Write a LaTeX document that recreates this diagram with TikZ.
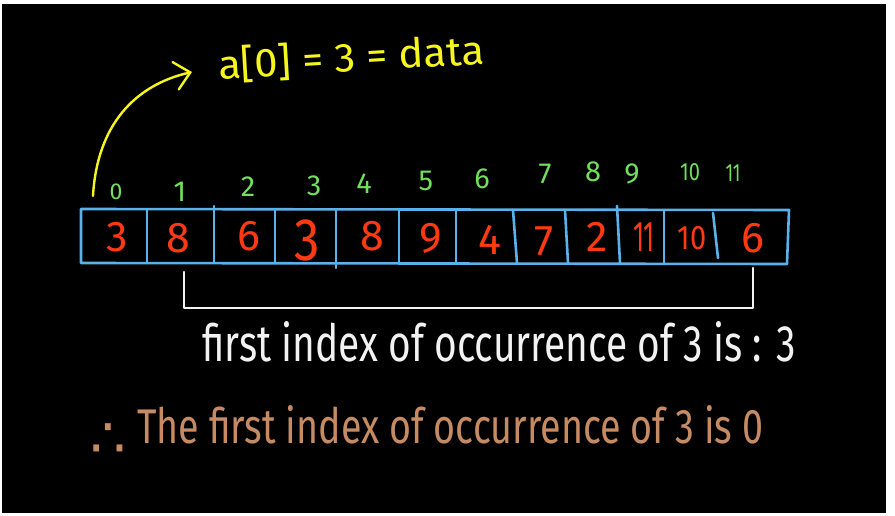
\documentclass[tikz,border=0pt]{standalone}
\usepackage{fontspec}
\usepackage{graphicx}
\setmainfont{Fira Sans}
\newfontfamily\symfont{DejaVu Sans}
\usetikzlibrary{arrows.meta}
\definecolor{cellblue}{HTML}{5BB2EA}
\definecolor{valred}{HTML}{FF3A12}
\definecolor{idxgreen}{HTML}{72E05C}
\definecolor{hyellow}{HTML}{F6F61E}
\definecolor{hbrown}{HTML}{C68B62}
\definecolor{hwhite}{HTML}{F2F2F2}
\tikzset{
  val/.style={text=valred, inner sep=0pt, font=\fontsize{43}{43}\selectfont},
  idx/.style={text=idxgreen, inner sep=0pt, font=\fontsize{29}{29}\selectfont},
  cellline/.style={draw=cellblue, line width=2.6pt, line cap=round, line join=round},
  handtext/.style={anchor=base west, inner sep=0pt},
}
\begin{document}
\begin{tikzpicture}[x=1pt,y=-1pt]
\useasboundingbox (0,0) rectangle (895,516);
\fill[white] (0,0) rectangle (895,516);
\fill[black] (2,4) rectangle (886,513);

% array
\draw[cellline] (81,209) -- (789,210) -- (787,264) -- (81,263) -- cycle;
\draw[cellline] (147,209) -- (147,263);
\draw[cellline] (214,206) -- (214,263);
\draw[cellline] (275,209) -- (275,263);
\draw[cellline] (336,209) -- (336,268);
\draw[cellline] (399,209) -- (399,263);
\draw[cellline] (456,209) -- (456,263);
\draw[cellline] (513,210) -- (517,263);
\draw[cellline] (565,210) -- (568,263);
\draw[cellline] (617,206) -- (620,263);
\draw[cellline] (664,210) -- (664,263);
\draw[cellline] (713,213) -- (718,258);

% values
\node[val] (v0) at (117,237) {3};
\node[val] (v1) at (178,238) {8};
\node[val] (v2) at (249,236) {6};
\node[val, font=\fontsize{60}{60}\selectfont] (v3) at (307,240) {\scalebox{0.85}[1]{3}};
\node[val] (v4) at (372,236) {8};
\node[val] (v5) at (431,238) {9};
\node[val] (v6) at (490,240) {4};
\node[val] (v7) at (544,241) {7};
\node[val] (v8) at (597,237) {2};
\node[val] (v9) at (644,237) {\scalebox{0.6}[1]{11}};
\node[val, font=\fontsize{34}{34}\selectfont] (v10) at (692,238) {\scalebox{0.85}[1]{10}};
\node[val] (v11) at (753,238) {6};

% indices
\node[idx, font=\fontsize{23}{23}\selectfont] (i0) at (116,192) {0};
\node[idx] (i1) at (180,192) {1};
\node[idx] (i2) at (248,187) {2};
\node[idx] (i3) at (314,186) {3};
\node[idx] (i4) at (364,184) {4};
\node[idx] (i5) at (426,181) {5};
\node[idx] (i6) at (482,179) {6};
\node[idx] (i7) at (545,174) {7};
\node[idx] (i8) at (593,172) {8};
\node[idx] (i9) at (632,174) {9};
\node[idx, font=\fontsize{25}{25}\selectfont] (i10) at (690,172) {\scalebox{0.8}[1]{10}};
\node[idx, font=\fontsize{25}{25}\selectfont] (i11) at (733,173) {\scalebox{0.7}[1]{11}};

% yellow note with arrow
\node[handtext, text=hyellow, rotate=3.5] (data) at (219,80) {\resizebox{266pt}{33pt}{a[0] = 3 = data}};
\coordinate (astart) at (93,196);
\coordinate (atip) at (192,72);
\draw[hyellow, line width=2.4pt, line cap=round,
      -{Straight Barb[length=15pt,width=28pt,line cap=round]}]
  (astart) .. controls (97,125) and (135,85) .. (atip);

% bracket
\coordinate (bl) at (184,272);
\coordinate (br) at (753,268);
\draw[hwhite, line width=2.6pt, line cap=round, line join=round]
  (bl) -- (184,308) -- (753,308) -- (br);

% white text
\node[handtext, text=hwhite] (first) at (202,361) {\resizebox{593pt}{40pt}{first index of occurrence of 3 is : 3}};

% brown conclusion
\node[inner sep=0pt, text=hbrown, font=\symfont\fontsize{56}{56}\selectfont] (therefore) at (108,441) {∴};
\node[handtext, text=hbrown] (concl) at (137,443) {\resizebox{626pt}{38pt}{The first index of occurrence of 3 is 0}};
\end{tikzpicture}
\end{document}
